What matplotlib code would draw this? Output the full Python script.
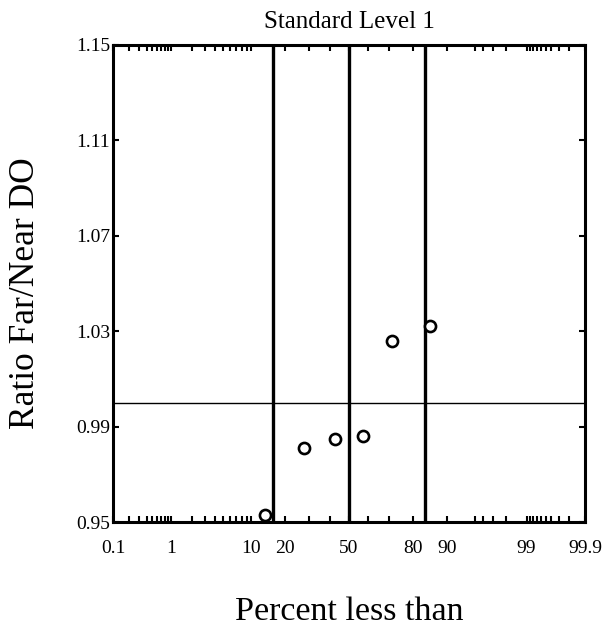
import math
import numpy as np
import matplotlib
matplotlib.use("Agg")
import matplotlib.pyplot as plt
from statistics import NormalDist

# Data (percent less than, ratio)
percent_less = [13.5, 28.0, 42.9, 57.1, 71.4, 85.7]
ratio_far_near = [0.953, 0.981, 0.985, 0.986, 1.026, 1.032]

# guide lines: mean and +/- 1 sigma positions, reference ratio
guide_percent = [15.87, 50.0, 84.13]
ref_ratio = 1.0

x_tick_labels = ["0.1", "1", "10", "20", "50", "80", "90", "99", "99.9"]
x_major = [0.1, 1, 10, 20, 50, 80, 90, 99, 99.9]
x_minor = [0.2, 0.3, 0.4, 0.5, 0.6, 0.7, 0.8, 0.9,
           2, 3, 4, 5, 6, 7, 8, 9, 30, 40, 60, 70,
           95, 96, 97, 98, 99.1, 99.2, 99.3, 99.4, 99.5, 99.6, 99.7, 99.8]
y_ticks = [0.95, 0.99, 1.03, 1.07, 1.11, 1.15]
y_tick_labels = ["0.95", "0.99", "1.03", "1.07", "1.11", "1.15"]

_nd = NormalDist()
_ppf = np.vectorize(lambda p: _nd.inv_cdf(min(max(p / 100.0, 1e-9), 1 - 1e-9)))
_cdf = np.vectorize(lambda z: 100.0 * 0.5 * (1 + math.erf(z / math.sqrt(2))))


def forward(p):
    return _ppf(np.asarray(p, dtype=float))


def inverse(z):
    return _cdf(np.asarray(z, dtype=float))


plt.rcParams["font.family"] = ["Liberation Serif", "DejaVu Serif"]

fig = plt.figure(figsize=(6.08, 6.29), dpi=100)
ax = fig.add_axes([0.186, 0.170, 0.776, 0.7585])

ax.set_xscale("function", functions=(forward, inverse))
ax.set_xlim(0.1, 99.9)
ax.set_ylim(0.95, 1.15)

for gp in guide_percent:
    ax.axvline(gp, color="black", linewidth=2.4)
ax.axhline(ref_ratio, color="black", linewidth=1.0)

ax.plot(percent_less, ratio_far_near, linestyle="none", marker="o",
        markersize=8, markerfacecolor="white", markeredgecolor="black",
        markeredgewidth=1.9, zorder=5)

ax.set_xticks(x_major)
ax.set_xticklabels(x_tick_labels, fontsize=14)
ax.set_xticks(x_minor, minor=True)
ax.set_yticks(y_ticks)
ax.set_yticklabels(y_tick_labels, fontsize=14)
ax.tick_params(axis="x", which="both", direction="in", top=True, bottom=True,
               length=4, width=1.5, pad=13)
ax.tick_params(axis="y", which="both", direction="in", left=True, right=True,
               length=4, width=1.5, pad=2)

for sp in ax.spines.values():
    sp.set_linewidth(2.2)

ax.set_title("Standard Level 1", fontsize=18, pad=12)
ax.set_ylabel("Ratio Far/Near DO", fontsize=25.5)
ax.yaxis.set_label_coords(-0.150, 0.48)
ax.set_xlabel("Percent less than", fontsize=24.5, labelpad=28)

fig.savefig("out.png", dpi=100, facecolor="white")
